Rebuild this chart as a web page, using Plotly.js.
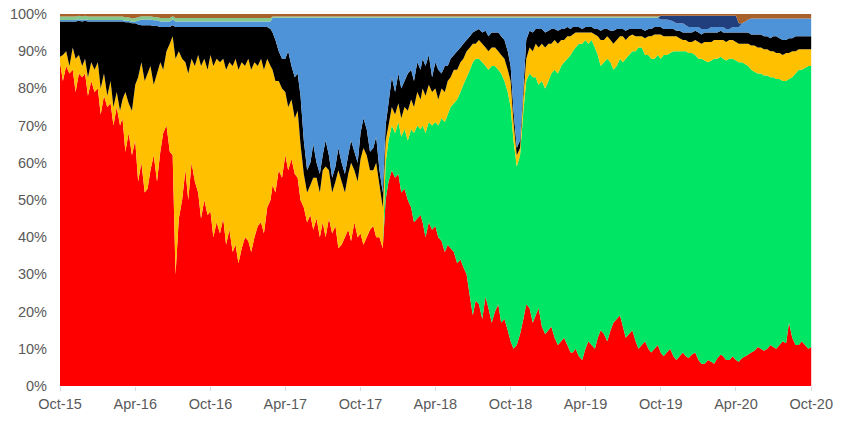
<!DOCTYPE html>
<html>
<head>
<meta charset="utf-8">
<script src="https://cdn.plot.ly/plotly-3.0.1.min.js"></script>
<style>html,body{margin:0;padding:0;background:#fff;}#chart{width:845px;height:424px;}</style>
</head>
<body>
<div id="chart"></div>
<script>
// Semi-monthly readings (1st and 16th of each month)
var dates = [
'2015-10-01','2015-10-16','2015-11-01','2015-11-16','2015-12-01','2015-12-16',
'2016-01-01','2016-01-16','2016-02-01','2016-02-16','2016-03-01','2016-03-16','2016-04-01','2016-04-16','2016-05-01','2016-05-16','2016-06-01','2016-06-16',
'2016-07-01','2016-07-16','2016-08-01','2016-08-16','2016-09-01','2016-09-16','2016-10-01','2016-10-16','2016-11-01','2016-11-16','2016-12-01','2016-12-16',
'2017-01-01','2017-01-16','2017-02-01','2017-02-16','2017-03-01','2017-03-16','2017-04-01','2017-04-16','2017-05-01','2017-05-16','2017-06-01','2017-06-16',
'2017-07-01','2017-07-16','2017-08-01','2017-08-16','2017-09-01','2017-09-16','2017-10-01','2017-10-16','2017-11-01','2017-11-16','2017-12-01','2017-12-16',
'2018-01-01','2018-01-16','2018-02-01','2018-02-16','2018-03-01','2018-03-16','2018-04-01','2018-04-16','2018-05-01','2018-05-16','2018-06-01','2018-06-16',
'2018-07-01','2018-07-16','2018-08-01','2018-08-16','2018-09-01','2018-09-16','2018-10-01','2018-10-16','2018-11-01','2018-11-16','2018-12-01','2018-12-16',
'2019-01-01','2019-01-16','2019-02-01','2019-02-16','2019-03-01','2019-03-16','2019-04-01','2019-04-16','2019-05-01','2019-05-16','2019-06-01','2019-06-16',
'2019-07-01','2019-07-16','2019-08-01','2019-08-16','2019-09-01','2019-09-16','2019-10-01','2019-10-16','2019-11-01','2019-11-16','2019-12-01','2019-12-16',
'2020-01-01','2020-01-16','2020-02-01','2020-02-16','2020-03-01','2020-03-16','2020-04-01','2020-04-16','2020-05-01','2020-05-16','2020-06-01','2020-06-16',
'2020-07-01','2020-07-16','2020-08-01','2020-08-16','2020-09-01','2020-09-16','2020-10-01'
];
var redShare = [87,86,85,84,84,82,80,78,76,75,72,68,66,
 60,53,62,63,70,62,45,58,60,52,50,47,44,45,42,38,37,39,40,44,48,
 54,58,62,61,56,48,46,45,44,45,43,38,42,44,41,40,43,40,
 50,58,57,53,48,45,44,44,43,39,38,36,34,30,19,22,24,17,22,18,12,11,18,
 21,19,16,15,13,12,11,9,8,10,11,13,14,15,18,16,14,12,11,10,10,
 9,9,8,8,8,8.5,7,6,6.5,7.5,8,7,7,
 7.5,8.5,9.5,10,10,10.5,11,11.5,13,11,11,10.5];
var greenShare = [0,0,0,0,0,0,0,0,0,0,0,0,0,
 0,0,0,0,0,0,0,0,0,0,0,0,0,0,0,0,0,0,0,0,0,
 0,0,0,0,0,0,0,0,0,0,0,0,0,0,0,0,0,0,
 10,12,14,16,21,25,26,27,28,33,35,40,45,53,68,66,62,69,63,64,63,48,56,
 63,64,66,67,72,74,77,81,84,83,82,76,73,72,68,71,75,78,80,79,78,
 79,80,82,82,82,81,81,81.5,81,80.5,80,81,80.5,
 79.5,77.5,75,74,73.5,72.5,71.5,70.5,70,74,74.5,75.5];
var yellowShare = [1.5,4,6,5,4,5,7,6,6,4,5,8,15,
 27,31,19,24,20,32,45,29,28,37,38,42,44,43,45,50,50,49,47,44,40,
 31,24,17,16,18,9,8,11,14,13,12,17,15,14,20,22,15,14,
 6,5,5,6,8,9,10,10,9,8,9,9,8,7,5,5,5,5,5,6,7,3,4,
 7,9,10,10,8,7,6,4.5,3,2,2,5,6,6,7,7,5,4,3,5,6.5,
 6.5,5,4,3.5,3,3,4.5,5,5,5,5,5,5,
 5,6,7,7,7,7,7,7.5,7,5.5,5,4.5];
var blackShare = [9.5,8,7,9.2,10.2,11,11,14,16,19,21,21.8,16.5,
 10,13,15.8,9.5,6.5,3,6.5,9.5,8.5,7.5,8.5,7.5,8.5,8.5,9.5,8.5,9.5,8.5,9.5,8.5,8.5,
 10,8,9,9,10,9,6,4,4,4,4,5,5,5,7,7,6,4,
 4,8,8,7,8,8,8,8,7,4,4,4,4,3,3,3,4.5,4,5,5,4,2,2,
 4.5,4,4,3.5,3,3,2.5,2,1.5,1.5,1.5,2,3,2.5,3,2,2,2,2,2,2,
 2,2,2,2,2,2.5,2.5,2.5,2.5,2,2,2,2.5,
 3,3,3,3.5,3.5,4,4,3.5,3.5,3.5,3.5,3.5];
var blueShare = [0.4,0.4,0.4,0.4,0.4,0.4,0.4,0.4,0.4,0.4,0.4,0.4,0.5,
 1.5,1.5,1.5,1.5,1.5,1.5,1.5,1.5,1.5,1.5,1.5,1.5,1.5,1.5,1.5,1.5,1.5,1.5,1.5,1.5,1.5,
 4,9,11,13,15,33,39,39,37,37,40,39,37,36,31,30,35,41,
 29,16,15,17,14,12,11,10,12,15,13,10,8,6,4,3,3.5,4,4,6,13,35,19,
 3.5,3,3,3.5,3,3,2.5,2.5,2.5,2.5,2.5,3,3,3.5,3,3,3,3,3,3,2.5,
 2,2.5,2,2,2,1.5,1.5,1,1.5,1.5,1.5,1,1.5,
 2.5,3.5,4.3,4.3,4.8,4.8,5.3,5.8,5.3,4.8,4.8,4.8];
var navyShare = [0,0,0,0,0,0,0,0,0,0,0,0,0,
 0,0,0,0,0,0,0,0,0,0,0,0,0,0,0,0,0,0,0,0,0,
 0,0,0,0,0,0,0,0,0,0,0,0,0,0,0,0,0,0,
 0,0,0,0,0,0,0,0,0,0,0,0,0,0,0,0,0,0,0,0,0,0,0,
 0,0,0,0,0,0,0,0,0,0,0,0,0,0,0,0,0,0,0,0,0,
 1,1,1.5,2,2.5,3,3,3.5,3,3,3,3.5,3,
 0,0,0,0,0,0,0,0,0,0,0,0];
var tealShare = [0.9,0.9,0.9,0.9,0.9,0.9,0.9,0.9,0.9,0.9,0.9,0.9,0.9,
 0.9,0.9,0.9,0.9,0.9,0.9,0.9,0.9,0.9,0.9,0.9,0.9,0.9,0.9,0.9,0.9,0.9,0.9,0.9,0.9,0.9,
 0.3,0.3,0.3,0.3,0.3,0.3,0.3,0.3,0.3,0.3,0.3,0.3,0.3,0.3,0.3,0.3,0.3,0.3,
 0.3,0.3,0.3,0.3,0.3,0.3,0.3,0.3,0.3,0.3,0.3,0.3,0.3,0.3,0.3,0.3,0.3,0.3,0.3,0.3,0.3,0.3,0.3,
 0.3,0.3,0.3,0.3,0.3,0.3,0.3,0.3,0.3,0.3,0.3,0.3,0.3,0.3,0.3,0.3,0.3,0.3,0.3,0.3,0.3,
 0,0,0,0,0,0,0,0,0,0,0,0,0,
 0,0,0,0,0,0,0,0,0,0,0,0];
var brownShare = [0.7,0.7,0.7,0.5,0.5,0.7,0.7,0.7,0.7,0.7,0.7,0.9,1.1,
 0.6,0.6,0.8,1.1,1.1,0.6,1.1,1.1,1.1,1.1,1.1,1.1,1.1,1.1,1.1,1.1,1.1,1.1,1.1,1.1,1.1,
 0.7,0.7,0.7,0.7,0.7,0.7,0.7,0.7,0.7,0.7,0.7,0.7,0.7,0.7,0.7,0.7,0.7,0.7,
 0.7,0.7,0.7,0.7,0.7,0.7,0.7,0.7,0.7,0.7,0.7,0.7,0.7,0.7,0.7,0.7,0.7,0.7,0.7,0.7,0.7,0.7,0.7,
 0.7,0.7,0.7,0.7,0.7,0.7,0.7,0.7,0.7,0.7,0.7,0.7,0.7,0.7,0.7,0.7,0.7,0.7,0.7,0.7,0.7,
 0.5,0.5,0.5,0.5,0.5,0.5,0.5,0.5,0.5,0.5,0.5,0.5,0.5,
 2.5,1.5,1.2,1.2,1.2,1.2,1.2,1.2,1.2,1.2,1.2,1.2];

// In-between readings (8th and 24th of each month) catching the spikes
var midDates = [
'2015-10-08','2015-10-24','2015-11-08','2015-11-24','2015-12-08','2015-12-24',
'2016-01-08','2016-01-24','2016-02-08','2016-02-24','2016-03-08','2016-03-24','2016-04-08','2016-04-24','2016-05-08','2016-05-24','2016-06-08','2016-06-24',
'2016-07-08','2016-07-24','2016-08-08','2016-08-24','2016-09-08','2016-09-24','2016-10-08','2016-10-24','2016-11-08','2016-11-24','2016-12-08','2016-12-24',
'2017-01-08','2017-01-24','2017-02-08','2017-02-24','2017-03-08','2017-03-24','2017-04-08','2017-04-24','2017-05-08','2017-05-24','2017-06-08','2017-06-24',
'2017-07-08','2017-07-24','2017-08-08','2017-08-24','2017-09-08','2017-09-24','2017-10-08','2017-10-24','2017-11-08','2017-11-24','2017-12-08','2017-12-24',
'2018-01-08','2018-01-24','2018-02-08','2018-02-24','2018-03-08','2018-03-24','2018-04-08','2018-04-24','2018-05-08','2018-05-24','2018-06-08','2018-06-24',
'2018-07-08','2018-07-24','2018-08-08','2018-08-24','2018-09-08','2018-09-24','2018-10-08','2018-10-24','2018-11-08','2018-11-24','2018-12-08','2018-12-24',
'2019-01-08','2019-01-24','2019-02-08','2019-02-24','2019-03-08','2019-03-24','2019-04-08','2019-04-24','2019-05-08','2019-05-24','2019-06-08','2019-06-24',
'2019-07-08','2019-07-24','2019-08-08','2019-08-24','2019-09-08','2019-09-24','2019-10-08','2019-10-24','2019-11-08','2019-11-24','2019-12-08','2019-12-24',
'2020-01-08','2020-01-24','2020-02-08','2020-02-24','2020-03-08','2020-03-24','2020-04-08','2020-04-24','2020-05-08','2020-05-24','2020-06-08','2020-06-24',
'2020-07-08','2020-07-24','2020-08-08','2020-08-24','2020-09-08','2020-09-24'
];
var midRed = [82,84,79,83,78,79,73,75,70,70,63,62,55,
 52,58,55,68,63,30,50,50,55,45,46,40,41,38,36,33,40,36,43,41,50,
 52,56,58,57,50,44,42,40,40,41,37,40,39,40,38,42,40,37,
 55,56,52,50,44,46,40,42,40,36,37,33,32,24,23,18,21,20,17,15,10,14,
 22,17,21,14,16,11,13,9,10,7,12,10,15,12,17,19,13,15,10,12,9,11,
 8,10,7,9,7.5,9,6,7,6,8.5,7,8,
 6.5,8,9,10.5,9.5,11,10,12,17,11,12,10];
var midGreen = [0,0,0,0,0,0,0,0,0,0,0,0,0,
 0,0,0,0,0,0,0,0,0,0,0,0,0,0,0,0,0,0,0,0,0,
 0,0,0,0,0,0,0,0,0,0,0,0,0,0,0,0,0,0,
 11,12,15,16,24,23,28,28,30,35,38,44,49,61,65,69,64,66,67,64,56,48,
 60,66,60,66,68,73,74,80,81,85,80,81,71,76,68,69,75,75,81,77,79,78,
 81,79.5,83,81,82,80,82,80,82,80,80.5,80,
 80.5,78.5,76,73.5,74,72,72.5,70,65.5,73,73,76];
var midYellow = [7,2,9,3,5,6,7,3,5,4,16,12,28,
 30,28,29,17,29,58,38,34,31,41,39,46,46,47,50,52,46,49,43,44,36,
 30,24,17,15,15,8,14,12,19,11,21,12,21,15,26,16,20,11,
 4,5,5,8,7,8,10,9,7,8,8,8,7,6,4,5,5,5,5,6,5,2,
 6,7,10,11,8,8,6,5,4,3,3,3.5,7,6,7,6,5,4.5,3,4.5,6,5.5,
 5,4.5,4,3,3,4,4,5.5,5,4.5,5,5,
 5,5.5,6.5,7,7,7,7,7,7,6,5.5,4.5];
var midBlack = [9,12,10,12,15,13,18,20,23,24,18.8,23.5,14.2,
 15,11,12.8,11.5,4.5,8.5,8.5,12.5,10.5,10.5,11.5,10.5,9.5,11.5,10.5,11.5,10.5,11.5,10.5,11.5,10,
 11,8,15,11,13,6,9,5,7,4,6,5,6,5,8,5,7,4,
 6,6,8,10,7,8,8,4,8,7,5,5,4,3,3.5,3,4,4,5,5,3,2,
 5,5,5,4,4,3.5,3,2,1.5,1,1.5,1.5,2.5,2,3.5,2,2.5,1.5,2,2,2,2,
 2,2,1.5,2,2.5,2.5,2.5,2.5,2,2.5,2.5,2,
 3,3,3,3.5,3.5,3.5,4.5,4,4,4,3.5,3.5];
var midBlue = [0.4,0.4,0.4,0.4,0.4,0.4,0.4,0.4,0.4,0.4,0.4,0.4,1.0,
 1.5,1.5,1.5,1.5,1.5,1.5,1.5,1.5,1.5,1.5,1.5,1.5,1.5,1.5,1.5,1.5,1.5,1.5,1.5,1.5,2,
 6,11,9,16,21,41,34,42,33,43,35,42,33,39,27,36,32,47,
 23,20,19,15,17,14,13,16,14,13,11,9,7,5,3.5,4,5,4,5,9,25,33,
 6,4,3,4,3,3.5,3,3,2.5,3,2.5,3,3.5,3,3.5,3,3.5,3,3,3.5,3,2.5,
 2.5,2.3,2,2.5,1.5,1,1.5,1,1.5,1,1,1.5,
 1.5,3,4.3,4.3,4.8,5.3,4.8,5.8,5.3,4.8,4.8,4.8];
var midNavy = [0,0,0,0,0,0,0,0,0,0,0,0,0,
 0,0,0,0,0,0,0,0,0,0,0,0,0,0,0,0,0,0,0,0,0,
 0,0,0,0,0,0,0,0,0,0,0,0,0,0,0,0,0,0,
 0,0,0,0,0,0,0,0,0,0,0,0,0,0,0,0,0,0,0,0,0,0,
 0,0,0,0,0,0,0,0,0,0,0,0,0,0,0,0,0,0,0,0,0,0,
 1,1.2,2,2,3,3,3.5,3.5,3,3,3.5,3,
 1,0,0,0,0,0,0,0,0,0,0,0];
var midTeal = [0.9,0.9,0.9,0.9,0.9,0.9,0.9,0.9,0.9,0.9,0.9,0.9,0.9,
 0.9,0.9,0.9,0.9,0.9,0.9,0.9,0.9,0.9,0.9,0.9,0.9,0.9,0.9,0.9,0.9,0.9,0.9,0.9,0.9,0.9,
 0.3,0.3,0.3,0.3,0.3,0.3,0.3,0.3,0.3,0.3,0.3,0.3,0.3,0.3,0.3,0.3,0.3,0.3,
 0.3,0.3,0.3,0.3,0.3,0.3,0.3,0.3,0.3,0.3,0.3,0.3,0.3,0.3,0.3,0.3,0.3,0.3,0.3,0.3,0.3,0.3,
 0.3,0.3,0.3,0.3,0.3,0.3,0.3,0.3,0.3,0.3,0.3,0.3,0.3,0.3,0.3,0.3,0.3,0.3,0.3,0.3,0.3,0.3,
 0,0,0,0,0,0,0,0,0,0,0,0,
 0,0,0,0,0,0,0,0,0,0,0,0];
var midBrown = [0.7,0.7,0.7,0.7,0.7,0.7,0.7,0.7,0.7,0.7,0.9,1.2,0.9,
 0.6,0.6,0.8,1.1,1.1,1.1,1.1,1.1,1.1,1.1,1.1,1.1,1.1,1.1,1.1,1.1,1.1,1.1,1.1,1.1,1.1,
 0.7,0.7,0.7,0.7,0.7,0.7,0.7,0.7,0.7,0.7,0.7,0.7,0.7,0.7,0.7,0.7,0.7,0.7,
 0.7,0.7,0.7,0.7,0.7,0.7,0.7,0.7,0.7,0.7,0.7,0.7,0.7,0.7,0.7,0.7,0.7,0.7,0.7,0.7,0.7,0.7,
 0.7,0.7,0.7,0.7,0.7,0.7,0.7,0.7,0.7,0.7,0.7,0.7,0.7,0.7,0.7,0.7,0.7,0.7,0.7,0.7,0.7,0.7,
 0.5,0.5,0.5,0.5,0.5,0.5,0.5,0.5,0.5,0.5,0.5,0.5,
 2.5,2,1.2,1.2,1.2,1.2,1.2,1.2,1.2,1.2,1.2,1.2];

var tickDates = ['2015-10-01','2016-04-01','2016-10-01','2017-04-01','2017-10-01','2018-04-01',
 '2018-10-01','2019-04-01','2019-10-01','2020-04-01','2020-10-01'];
var tickLabels = ['Oct-15','Apr-16','Oct-16','Apr-17','Oct-17','Apr-18','Oct-18','Apr-19','Oct-19','Apr-20','Oct-20'];

var seriesList = [
  {name:'Red',    a:redShare,    b:midRed,    color:'#FF0000'},
  {name:'Green',  a:greenShare,  b:midGreen,  color:'#00E564'},
  {name:'Yellow', a:yellowShare, b:midYellow, color:'#FFC000'},
  {name:'Black',  a:blackShare,  b:midBlack,  color:'#000000'},
  {name:'Blue',   a:blueShare,   b:midBlue,   color:'#4E93D8'},
  {name:'Navy',   a:navyShare,   b:midNavy,   color:'#203F7C'},
  {name:'Teal',   a:tealShare,   b:midTeal,   color:'#86C98C'},
  {name:'Brown',  a:brownShare,  b:midBrown,  color:'#A8612B'}
];

// merge the two reading sets into one date-ordered table
var rows = [];
dates.forEach(function(d,i){ rows.push({d:d, v:seriesList.map(function(s){return s.a[i];})}); });
midDates.forEach(function(d,i){ rows.push({d:d, v:seriesList.map(function(s){return s.b[i];})}); });
rows.sort(function(p,q){ return p.d < q.d ? -1 : (p.d > q.d ? 1 : 0); });
var allDates = rows.map(function(r){return r.d;});

var traces = seriesList.map(function(s,k){
  return {
    type:'scatter', mode:'none', x:allDates, y:rows.map(function(r){return r.v[k];}), name:s.name,
    stackgroup:'one', groupnorm:'percent',
    fillcolor:s.color, line:{width:0, shape:'linear'},
    hoverinfo:'x+y+name'
  };
});

var tickFont = {family:'"Liberation Sans", Arial, sans-serif', size:14.5, color:'#595959'};

var layout = {
  width:845, height:424,
  margin:{l:60, r:33, t:14, b:38},
  paper_bgcolor:'#ffffff', plot_bgcolor:'#ffffff',
  showlegend:false,
  xaxis:{
    type:'date', range:['2015-10-01','2020-10-03'],
    tickmode:'array', tickvals:tickDates, ticktext:tickLabels,
    showgrid:false, zeroline:false, showline:false,
    ticks:'outside', ticklen:4, tickcolor:'#d9d9d9',
    tickfont:tickFont, ticklabelstandoff:1
  },
  yaxis:{
    range:[0,100], dtick:10, tick0:0, ticksuffix:'%',
    showgrid:false, zeroline:false, showline:false, ticks:'',
    tickfont:tickFont, ticklabelstandoff:12
  }
};

Plotly.newPlot('chart', traces, layout, {staticPlot:true, displayModeBar:false});
</script>
</body>
</html>
